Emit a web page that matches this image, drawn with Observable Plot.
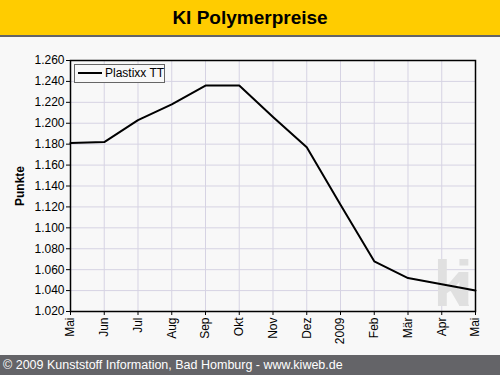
<!DOCTYPE html>
<html><head><meta charset="utf-8">
<script src="https://cdn.jsdelivr.net/npm/d3@7"></script>
<script src="https://cdn.jsdelivr.net/npm/@observablehq/plot@0.6"></script>
<style>
html,body{margin:0;padding:0;background:#f8f8f8;width:500px;height:375px;overflow:hidden;font-family:"Liberation Sans",Arial,sans-serif;}
#wrap{position:relative;width:500px;height:375px;}
#title{height:35px;background:#ffcc00;border-bottom:2px solid #646468;box-sizing:content-box;text-align:center;font-weight:bold;font-size:19px;line-height:36px;color:#000;}
#foot{position:absolute;left:0;top:355px;width:500px;height:20px;background:#646468;color:#fff;font-size:12.5px;line-height:20px;padding-left:3px;box-sizing:border-box;}
#legend{position:absolute;left:74px;top:64px;width:91px;height:19px;border:1px solid #666;box-sizing:border-box;background:#f8f8f8;font-size:12px;line-height:17px;color:#000;white-space:nowrap;}
#legend .sw{position:absolute;left:3px;top:7px;width:24px;height:2px;background:#000;}
#legend .tx{position:absolute;left:30px;top:0;}
svg [aria-label="y-axis label"]{font-weight:bold;font-size:12px;}
svg g.wm text{letter-spacing:-14px;}
</style></head>
<body><div id="wrap">
<div id="title">KI Polymerpreise</div>
<div id="chart"></div>
<div id="legend"><div class="sw"></div><div class="tx">Plastixx TT</div></div>
<div id="foot">© 2009 Kunststoff Information, Bad Homburg - www.kiweb.de</div>
</div>
<script>
const months = ["Mai","Jun","Jul","Aug","Sep","Okt","Nov","Dez","2009","Feb","Mär","Apr","Mai"];
const values = [1181,1182,1203,1218,1236,1236,1206,1177,1122,1068,1052,1046,1040];
const yTicks = [1020,1040,1060,1080,1100,1120,1140,1160,1180,1200,1220,1240,1260];
const seriesName = "Plastixx TT";
const watermark = "ki";

const de = d3.formatLocale({decimal:",",thousands:".",grouping:[3],currency:["","€"]});
const fmt = de.format(",");
const data = months.map((m,i)=>({i, m, v: values[i]}));
const idx = months.map((_,i)=>i);

const plot = Plot.plot({
  width: 500, height: 318,
  marginLeft: 70, marginRight: 25, marginTop: 23, marginBottom: 44,
  style: {background:"transparent", fontFamily:"'Liberation Sans',Arial,sans-serif", fontSize:"12px", color:"#000", overflow:"visible"},
  x: {type:"linear", domain:[0, months.length-1]},
  y: {domain:[1020,1260]},
  marks: [
    Plot.gridX(idx, {stroke:"#d6d3e3", strokeOpacity:1}),
    Plot.gridY(yTicks, {stroke:"#d6d3e3", strokeOpacity:1}),
    Plot.text([watermark], {text: d=>d, frameAnchor:"bottom-right", textAnchor:"start", lineAnchor:"bottom", dx:-42, dy:-6, fontSize:64, fontWeight:"bold", fill:"#e0e0e0", className:"wm"}),
    Plot.axisY(yTicks, {tickFormat: fmt, tickSize:4, tickPadding:2, fontSize:12, label:"Punkte", labelAnchor:"center", labelArrow:"none", labelOffset:55, stroke:"#000"}),
    Plot.axisX(idx, {tickFormat: i=>months[i], tickRotate:-90, tickSize:4, tickPadding:2, fontSize:12, label:null, stroke:"#000"}),
    Plot.line(data, {x:"i", y:"v", stroke:"#000", strokeWidth:2}),
    Plot.frame({stroke:"#000", strokeWidth:1.5})
  ]
});
document.getElementById("chart").appendChild(plot);
document.getElementById("legend").querySelector(".tx").textContent = seriesName;
</script>
</body></html>
